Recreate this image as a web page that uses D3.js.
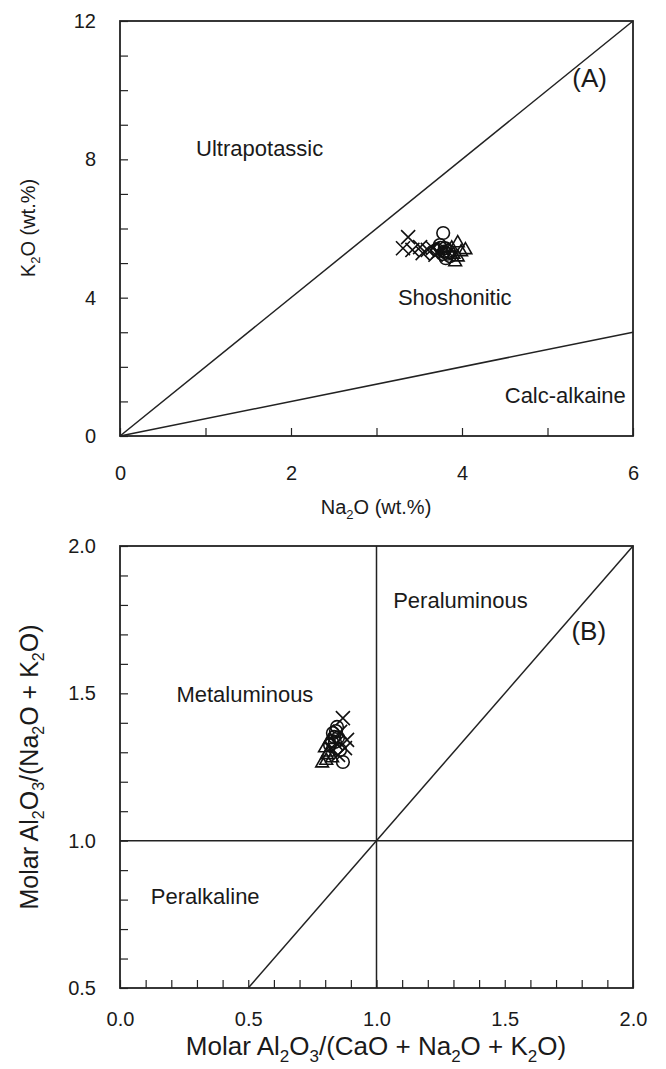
<!DOCTYPE html>
<html><head><meta charset="utf-8">
<script src="https://cdn.jsdelivr.net/npm/d3@7"></script>
<style>
body{margin:0;background:#fff}
text{font-family:"Liberation Sans",Arial,Helvetica,sans-serif;fill:#1a1a1a}
</style></head>
<body>
<svg id="chart" width="666" height="1069"></svg>
<script>
// ---------- Panel A data (Na2O, K2O wt.%) ----------
const aTickLabels = [0, 2, 4, 6];
const aTickLabelsY = [0, 4, 8, 12];
const aCross = [[3.37,5.75],[3.31,5.43],[3.42,5.38],[3.51,5.46],[3.54,5.29],[3.60,5.38],[3.66,5.43],[3.72,5.32],[3.69,5.24],[3.77,5.40]];
const aCircle = [[3.78,5.87],[3.74,5.52],[3.80,5.43],[3.77,5.26],[3.84,5.35],[3.81,5.14],[3.71,5.38],[3.86,5.20],[3.79,5.33],[3.75,5.44],[3.83,5.27]];
const aTriangle = [[3.95,5.58],[4.04,5.38],[3.95,5.17],[3.92,5.03],[3.88,5.43],[3.99,5.32],[3.90,5.25]];
const aLines = [[[0,0],[6,12]], [[0,0],[6,3]]];
const aLabels = [["Ultrapotassic",0.89,8.1,22],["Shoshonitic",3.25,3.78,22],["Calc-alkaine",4.5,0.94,22],["(A)",5.29,10.1,26]];

// ---------- Panel B data (A/CNK, A/NK) ----------
const bTickLabels = [0.0, 0.5, 1.0, 1.5, 2.0];
const bTickLabelsY = [0.5, 1.0, 1.5, 2.0];
const bCross = [[0.869,1.416],[0.885,1.342],[0.877,1.314],[0.858,1.369],[0.850,1.291],[0.842,1.330]];
const bCircle = [[0.846,1.386],[0.830,1.365],[0.869,1.267],[0.838,1.335],[0.858,1.308],[0.819,1.325],[0.850,1.350],[0.842,1.372],[0.835,1.352],[0.826,1.338]];
const bTriangle = [[0.788,1.263],[0.807,1.291],[0.799,1.314],[0.827,1.280],[0.819,1.342],[0.812,1.300],[0.804,1.272]];
const bLines = [[[1,0.5],[1,2]], [[0,1],[2,1]], [[0.5,0.5],[2,2]]];
const bLabels = [["Peraluminous",1.065,1.79,22],["(B)",1.76,1.68,26],["Metaluminous",0.22,1.47,22],["Peralkaline",0.12,0.785,22]];

const svg = d3.select("#chart");
const FS = 20;

function panel(cfg){
  const g = svg.append("g");
  const x = d3.scaleLinear().domain(cfg.xd).range([120, 633]);
  const y = d3.scaleLinear().domain(cfg.yd).range([cfg.bottom, cfg.top]);

  const xAxis = d3.axisBottom(x).tickValues(cfg.xMinor).tickSize(-8).tickPadding(cfg.xPad)
     .tickFormat(d => cfg.xLab.some(v => Math.abs(v-d)<1e-9) ? cfg.xFmt(d) : "");
  const gx = g.append("g").attr("transform",`translate(0,${cfg.bottom})`).call(xAxis);
  const yAxis = d3.axisLeft(y).tickValues(cfg.yMinor).tickSize(-8).tickPadding(24)
     .tickFormat(d => cfg.yLab.some(v => Math.abs(v-d)<1e-9) ? cfg.yFmt(d) : "");
  const gy = g.append("g").attr("transform",`translate(120,0)`).call(yAxis);
  [gx,gy].forEach(a=>{
    a.select(".domain").remove();
    a.selectAll("line").attr("stroke","#222").attr("stroke-width",1.2);
    a.selectAll("text").filter(function(){return this.textContent==="";}).remove();
    a.selectAll("text").attr("font-size",FS).attr("fill","#1a1a1a")
      .style("font-family",'"Liberation Sans",Arial,sans-serif');
  });

  g.append("rect").attr("x",x.range()[0]).attr("y",cfg.top)
    .attr("width",x.range()[1]-x.range()[0]).attr("height",cfg.bottom-cfg.top)
    .attr("fill","none").attr("stroke","#222").attr("stroke-width",1.8);

  g.selectAll(".bl").data(cfg.lines).join("line")
    .attr("x1",d=>x(d[0][0])).attr("y1",d=>y(d[0][1]))
    .attr("x2",d=>x(d[1][0])).attr("y2",d=>y(d[1][1]))
    .attr("stroke","#222").attr("stroke-width",1.5);

  g.selectAll(".fl").data(cfg.labels).join("text")
    .attr("x",d=>x(d[1])).attr("y",d=>y(d[2]))
    .attr("font-size",d=>d[3]).text(d=>d[0]);

  const sym = (type,size) => d3.symbol().type(type).size(size)();
  const mk = (data,type,size) => g.append("g").selectAll("path").data(data).join("path")
    .attr("transform",d=>`translate(${x(d[0])},${y(d[1])})`)
    .attr("d",sym(type,size)).attr("fill","none").attr("stroke","#111").attr("stroke-width",1.6);
  mk(cfg.cross, d3.symbolTimes, 130);
  mk(cfg.triangle, d3.symbolTriangle2, 115);
  mk(cfg.circle, d3.symbolCircle, 125);
}

panel({xd:[0,6], yd:[0,12], top:21, bottom:436, xPad:30,
  xMinor:d3.range(0,6.01,1), yMinor:d3.range(0,12.01,1),
  xLab:aTickLabels, yLab:aTickLabelsY, xFmt:d3.format("d"), yFmt:d3.format("d"),
  lines:aLines, labels:aLabels, cross:aCross, circle:aCircle, triangle:aTriangle});

panel({xd:[0,2], yd:[0.5,2], top:546, bottom:988, xPad:24,
  xMinor:d3.range(0,2.001,0.1).map(v=>+v.toFixed(2)), yMinor:d3.range(0.5,2.001,0.1).map(v=>+v.toFixed(2)),
  xLab:bTickLabels, yLab:bTickLabelsY, xFmt:d3.format(".1f"), yFmt:d3.format(".1f"),
  lines:bLines, labels:bLabels, cross:bCross, circle:bCircle, triangle:bTriangle});

// axis titles: parts alternate normal text / {sub}
function title(parts, x, y, rotate, fs){
  const t = svg.append("text").attr("font-size",fs).attr("text-anchor","middle")
    .attr("transform", rotate ? `translate(${x},${y}) rotate(-90)` : `translate(${x},${y})`);
  const sub = Math.round(fs*0.65), sh = Math.round(fs*0.25);
  let shifted = false;
  parts.forEach(p=>{
    if (typeof p === "string") {
      const s = t.append("tspan").text(p);
      if (shifted) { s.attr("dy",-sh); shifted = false; }
    } else {
      t.append("tspan").attr("font-size",sub).attr("dy",shifted?0:sh).text(p.sub);
      shifted = true;
    }
  });
}
title(["Na",{sub:"2"},"O (wt.%)"], 376, 514, false, 20);
title(["K",{sub:"2"},"O (wt.%)"], 35, 228, true, 20);
title(["Molar Al",{sub:"2"},"O",{sub:"3"},"/(CaO + Na",{sub:"2"},"O + K",{sub:"2"},"O)"], 376, 1055, false, 26);
title(["Molar Al",{sub:"2"},"O",{sub:"3"},"/(Na",{sub:"2"},"O + K",{sub:"2"},"O)"], 38, 767, true, 25);
</script>
</body></html>
